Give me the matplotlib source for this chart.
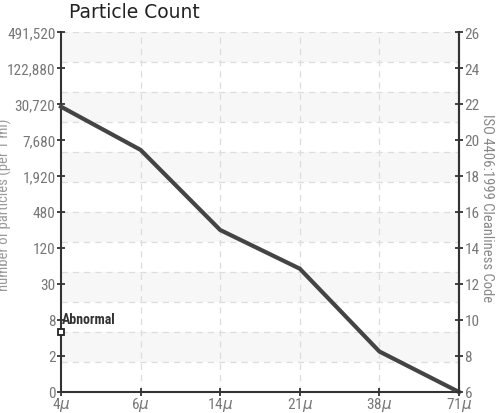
import numpy as np
import matplotlib
matplotlib.use("Agg")
import matplotlib.pyplot as plt

# データ
sizes = ["4", "6", "14", "21", "38", "71"]
iso_code = [21.85, 19.45, 15.0, 12.85, 8.25, 6.0]
left_labels = ["0", "2", "8", "30", "120", "480", "1,920", "7,680", "30,720", "122,880", "491,520"]
right_ticks = [6, 8, 10, 12, 14, 16, 18, 20, 22, 24, 26]
abnormal_x = 0
abnormal_y = 9.35

cond = ["Roboto Condensed", "Liberation Sans Narrow", "Liberation Sans"]
tick_col = "#777777"
axis_col = "#333333"

fig = plt.figure(figsize=(4.98, 4.14), dpi=100)
ax = fig.add_axes([61 / 498, 1 - 393 / 414, 398 / 498, 360 / 414])
x = np.arange(len(sizes))
ax.set_xlim(0, len(sizes) - 1)
ax.set_ylim(6, 26)

# 背景の帯とグリッド
edges = np.linspace(6, 26, 13)
for i in range(12):
    if i % 2 == 1:
        ax.axhspan(edges[i], edges[i + 1], color="#f7f7f7", lw=0, zorder=0)
for e in edges[1:]:
    ax.axhline(e, color="#dddddd", lw=0.9, ls=(0, (5, 4)), zorder=1)
for xi in x[1:-1]:
    ax.axvline(xi, color="#dddddd", lw=0.9, ls=(0, (5, 4)), zorder=1)

ax.plot(x, iso_code, color="#444444", lw=3, solid_joinstyle="miter", zorder=3, clip_on=False)

# Abnormal
ax.plot([abnormal_x], [abnormal_y], marker="s", ms=5, mfc="white", mec="#222222", mew=1.3,
        zorder=4, clip_on=False)
ax.text(abnormal_x + 0.01, abnormal_y + 0.3, "Abnormal", fontsize=10, fontweight="bold",
        color="#333333", family=cond, va="bottom", ha="left", zorder=5)

ax.spines["top"].set_visible(False)
for s in ["left", "right", "bottom"]:
    ax.spines[s].set_color(axis_col)
    ax.spines[s].set_linewidth(1.5)

ax.set_xticks(x)
ax.set_xticklabels([s + r"$\mu$" for s in sizes])
ax.set_yticks(right_ticks)
ax.set_yticklabels(left_labels)
ax.tick_params(axis="both", direction="inout", length=6, width=1.3, color=axis_col,
               labelcolor=tick_col, labelsize=11, pad=1)
ax.tick_params(axis="x", pad=-1)
for lab in ax.get_xticklabels() + ax.get_yticklabels():
    lab.set_family(cond)

ax2 = ax.twinx()
ax2.set_ylim(6, 26)
ax2.set_yticks(right_ticks)
ax2.tick_params(axis="y", direction="inout", length=6, width=1.3, color=axis_col,
                labelcolor=tick_col, labelsize=11, pad=1)
for lab in ax2.get_yticklabels():
    lab.set_family(cond)
for s in ["top", "left", "bottom"]:
    ax2.spines[s].set_visible(False)
ax2.spines["right"].set_color(axis_col)
ax2.spines["right"].set_linewidth(1.5)

fig.text(487 / 498, 1 - 208 / 414, "ISO 4406:1999 Cleanliness Code", rotation=270, color="#888888",
         fontsize=10.5, family=cond, ha="center", va="center")
fig.text(4 / 498, 1 - 205 / 414, "number of particles (per 1 ml)", rotation=90, color="#999999",
         fontsize=10.5, family=cond, ha="center", va="center")
fig.text(134 / 498, 1 - 12 / 414, "Particle Count", fontsize=13.5, color="#222222",
         ha="center", va="center")

fig.savefig("out.png", dpi=100)
